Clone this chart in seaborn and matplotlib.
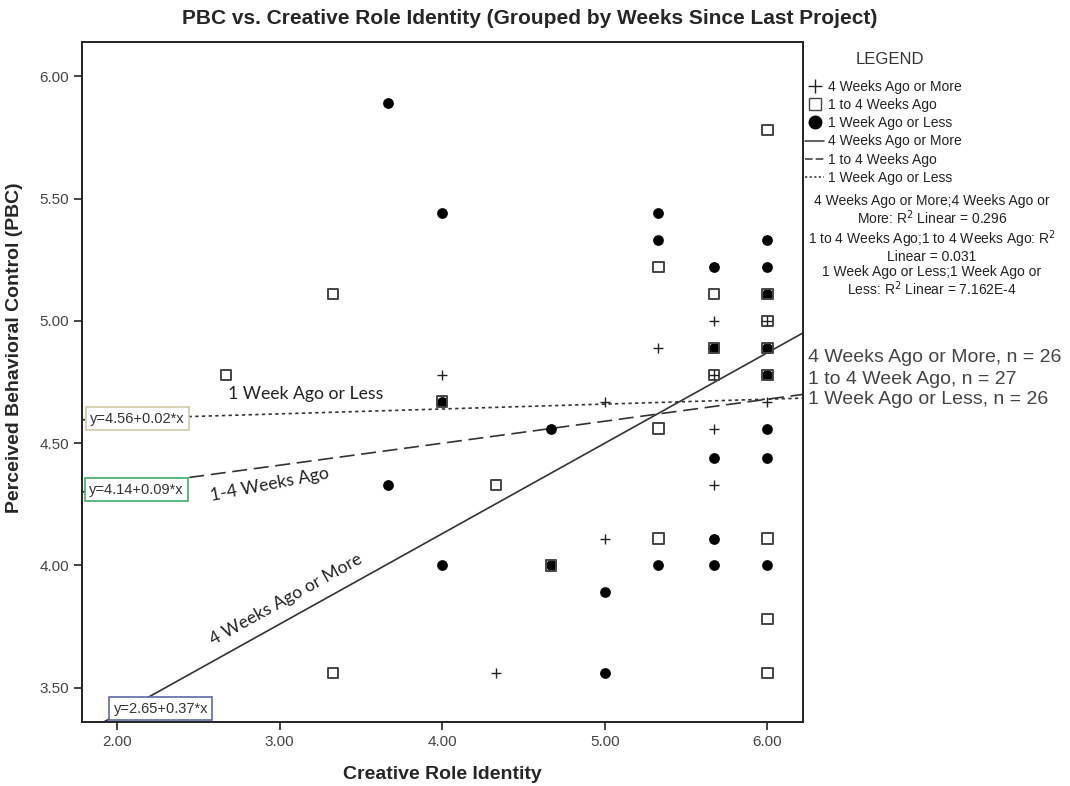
#!/usr/bin/env python3
"""
PBC vs. Creative Role Identity の散布図（最後のプロジェクトからの週数でグループ化）
"""

import numpy as np
import pandas as pd
import matplotlib
matplotlib.use("Agg")
import matplotlib.pyplot as plt
from matplotlib.lines import Line2D
import seaborn as sns

# グループ名
GROUPS = ["4 Weeks Ago or More", "1 to 4 Weeks Ago", "1 Week Ago or Less"]

# 4 Weeks Ago or More（＋）
more4_x = [4.00, 4.33, 5.00, 5.00, 5.33, 5.67, 5.67, 5.67, 5.67, 6.00, 6.00]
more4_y = [4.78, 3.56, 4.67, 4.11, 4.89, 5.00, 4.78, 4.56, 4.33, 5.00, 4.67]

# 1 to 4 Weeks Ago（□）
mid_x = [2.67, 3.33, 3.33, 4.00, 4.33, 4.67, 5.33, 5.33, 5.33, 5.67,
         5.67, 5.67, 6.00, 6.00, 6.00, 6.00, 6.00, 6.00, 6.00, 6.00]
mid_y = [4.78, 5.11, 3.56, 4.67, 4.33, 4.00, 5.22, 4.56, 4.11, 5.11,
         4.89, 4.78, 5.78, 5.11, 5.00, 4.89, 4.78, 4.11, 3.78, 3.56]

# 1 Week Ago or Less（●）
less1_x = [3.67, 3.67, 4.00, 4.00, 4.00, 4.67, 4.67, 5.00, 5.00, 5.33,
           5.33, 5.33, 5.67, 5.67, 5.67, 5.67, 5.67, 6.00, 6.00, 6.00,
           6.00, 6.00, 6.00, 6.00, 6.00]
less1_y = [5.89, 4.33, 5.44, 4.67, 4.00, 4.56, 4.00, 3.89, 3.56, 5.44,
           5.33, 4.00, 5.22, 4.89, 4.44, 4.11, 4.00, 5.33, 5.22, 5.11,
           4.89, 4.78, 4.56, 4.44, 4.00]

# 回帰式（切片・傾き）と R^2、n
intercepts = [2.65, 4.14, 4.56]
slopes = [0.37, 0.09, 0.02]
r2_labels = ["0.296", "0.031", "7.162E-4"]
n_counts = [26, 27, 26]

x_ticks = [2.0, 3.0, 4.0, 5.0, 6.0]
y_ticks = [3.5, 4.0, 4.5, 5.0, 5.5, 6.0]

sns.set_theme(style="white")
plt.rcParams['font.family'] = ['Liberation Sans', 'DejaVu Sans']

df = pd.concat([
    pd.DataFrame({"x": more4_x, "y": more4_y, "group": GROUPS[0]}),
    pd.DataFrame({"x": mid_x, "y": mid_y, "group": GROUPS[1]}),
    pd.DataFrame({"x": less1_x, "y": less1_y, "group": GROUPS[2]}),
])

fig = plt.figure(figsize=(10.7, 7.86), dpi=100)
ax = fig.add_axes([0.0766, 0.0814, 0.674, 0.865])

xlim = (1.785, 6.22)
ylim = (3.36, 6.14)

# 回帰直線
line_styles = ["-", (0, (9, 4)), (0, (2, 2))]
for a, b, ls in zip(intercepts, slopes, line_styles):
    xs = np.array(xlim)
    ax.plot(xs, a + b * xs, color="#333333", lw=1.2, linestyle=ls, zorder=2)

# 散布図
sns.scatterplot(data=df[df.group == GROUPS[2]], x="x", y="y", marker="o",
                color="black", s=60, edgecolor="black", linewidth=0, ax=ax, zorder=3)
sns.scatterplot(data=df[df.group == GROUPS[1]], x="x", y="y", marker="s",
                facecolor="none", edgecolor="#444444", s=55, linewidth=1.4, ax=ax, zorder=4)
sns.scatterplot(data=df[df.group == GROUPS[0]], x="x", y="y", marker="+",
                color="#222222", s=60, linewidth=1.0, ax=ax, zorder=5)

ax.set_xlim(*xlim)
ax.set_ylim(*ylim)
ax.set_xticks(x_ticks)
ax.set_yticks(y_ticks)
ax.set_xticklabels([f"{v:.2f}" for v in x_ticks])
ax.set_yticklabels([f"{v:.2f}" for v in y_ticks])
ax.tick_params(axis="both", direction="out", length=6, width=1.2, color="#222222",
               labelsize=11, labelcolor="#444444", bottom=True, left=True)
for sp in ax.spines.values():
    sp.set_color("#222222")
    sp.set_linewidth(1.4)

ax.set_xlabel("Creative Role Identity", fontsize=14, fontweight="bold", labelpad=12)
ax.set_ylabel("Perceived Behavioral Control (PBC)", fontsize=14, fontweight="bold")
ax.yaxis.set_label_coords(-0.082, 0.55)

fig.text(0.495, 0.977, "PBC vs. Creative Role Identity (Grouped by Weeks Since Last Project)",
         ha="center", va="center", fontsize=15, fontweight="bold")

# 回帰式ラベル
eq_pos = [(2.27, 3.415), (2.12, 4.31), (2.125, 4.60)]
box_colors = ["#5a6ca8", "#3cae6a", "#cfc9a3"]
for a, b, (px, py), bc in zip(intercepts, slopes, eq_pos, box_colors):
    ax.text(px, py, f"y={a:.2f}+{b:.2f}*x", ha="center", va="center", fontsize=10.5,
            color="#333333", zorder=10,
            bbox=dict(boxstyle="square,pad=0.3", facecolor="white", edgecolor=bc, linewidth=1.2))

# 直線上のラベル
ax.text(3.16, 4.70, "1 Week Ago or Less", ha="center", va="center", fontsize=12.7,
        family=["Lato", "DejaVu Sans"], color="#222222", zorder=6)
ax.text(2.94, 4.33, "1-4 Weeks Ago", ha="center", va="center", fontsize=12.7, rotation=11,
        family=["Lato", "DejaVu Sans"], color="#222222", zorder=6)
ax.text(3.04, 3.86, "4 Weeks Ago or More", ha="center", va="center", fontsize=12.7, rotation=29,
        family=["Lato", "DejaVu Sans"], color="#222222", zorder=6)

# 右側の n ラベル
n_names = ["4 Weeks Ago or More", "1 to 4 Week Ago", "1 Week Ago or Less"]
for i, (name, n) in enumerate(zip(n_names, n_counts)):
    fig.text(808 / 1070, 1 - (358 + i * 21) / 786, f"{name}, n = {n}", ha="left", va="center",
             fontsize=14, color="#444444")

# 凡例
fig.text(890 / 1070, 1 - 60 / 786, "LEGEND", ha="center", va="center", fontsize=12,
         color="#333333")
handles = [
    Line2D([], [], marker="+", color="#222222", linestyle="none", markersize=10),
    Line2D([], [], marker="s", markerfacecolor="none", markeredgecolor="#444444",
           linestyle="none", markersize=9),
    Line2D([], [], marker="o", color="black", linestyle="none", markersize=9),
    Line2D([], [], color="#333333", lw=1.1, linestyle=line_styles[0]),
    Line2D([], [], color="#333333", lw=1.1, linestyle=(0, (5, 2))),
    Line2D([], [], color="#333333", lw=1.1, linestyle=(0, (1.5, 1.5))),
]
leg = fig.legend(handles, GROUPS + GROUPS, loc="upper left",
                 bbox_to_anchor=(805 / 1070, 1 - 80 / 786), frameon=False,
                 fontsize=10, handlelength=1.4, handletextpad=0.25,
                 labelspacing=0.3, borderaxespad=0, borderpad=0)
for t in leg.get_texts():
    t.set_color("#222222")

r2_text = "\n".join([
    "4 Weeks Ago or More;4 Weeks Ago or",
    f"More: R$^2$ Linear = {r2_labels[0]}",
    "1 to 4 Weeks Ago;1 to 4 Weeks Ago: R$^2$",
    f"Linear = {r2_labels[1]}",
    "1 Week Ago or Less;1 Week Ago or",
    f"Less: R$^2$ Linear = {r2_labels[2]}",
])
fig.text(932 / 1070, 1 - 194 / 786, r2_text, ha="center", va="top", fontsize=10,
         color="#222222", linespacing=1.05)

plt.savefig("out.png", dpi=100)
plt.close()
